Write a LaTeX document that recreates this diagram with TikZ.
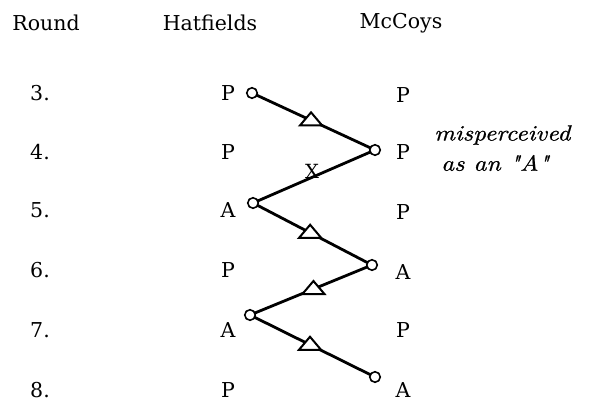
\documentclass[tikz,border=0pt]{standalone}
\usepackage{fontspec}
\setmainfont{DejaVu Serif}
\newfontfamily\notefont{lmroman10-italic.otf}[FakeStretch=1.15, FakeBold=0.8]
\usetikzlibrary{calc}
\begin{document}
\begin{tikzpicture}[x=1pt,y=-1pt,
  lbl/.style={font=\fontsize{20.5}{24}\selectfont, inner sep=0pt},
  note/.style={font=\fontsize{22}{26}\selectfont\notefont, inner sep=0pt, anchor=west},
  dot/.style={circle, draw, fill=white, line width=1.6pt, minimum size=10.5pt, inner sep=0pt},
  link/.style={line width=2.8pt},
  tri/.style={draw, fill=white, line width=2pt, line join=miter}
]
\useasboundingbox (0,0) rectangle (593,404);
% headers
\node[lbl] (hr) at (46,23) {Round};
\node[lbl] (hh) at (210,23) {Hatfields};
\node[lbl] (hm) at (401,23) {McCoys};
% round numbers
\foreach \n/\y in {3/93,4/152,5/210,6/270,7/330,8/390}{
  \node[lbl] (r\n) at (40,\y) {\n.};
}
% Hatfields moves
\node[lbl] (h3) at (228,93) {P};
\node[lbl] (h4) at (228,152) {P};
\node[lbl] (h5) at (228,210) {A};
\node[lbl] (h6) at (228,270) {P};
\node[lbl] (h7) at (228,330) {A};
\node[lbl] (h8) at (228,390) {P};
% McCoys moves
\node[lbl] (m3) at (403,95) {P};
\node[lbl] (m4) at (403,152) {P};
\node[lbl] (m5) at (403,212) {P};
\node[lbl] (m6) at (403,272) {A};
\node[lbl] (m7) at (403,330) {P};
\node[lbl] (m8) at (403,390) {A};
% note
\node[note] (n1) at (434,135) {misperceived};
\node[note] (n2) at (441,163) {as an "A"};
% zigzag
\coordinate (c1) at (252,93);
\coordinate (c2) at (375,150);
\coordinate (c3) at (253,203);
\coordinate (c4) at (372,265);
\coordinate (c5) at (250,315);
\coordinate (c6) at (375,377);
\draw[link] (c1) -- (c2) -- (c3) -- (c4) -- (c5) -- (c6);
\foreach \a/\b in {c1/c2,c3/c4,c4/c5,c5/c6}{
  \draw[tri] ($(\a)!0.48!(\b)+(-11,5)$) -- ++(22,0) -- ++(-11,-13) -- cycle;
}
\node[lbl, font=\fontsize{19.5}{22}\selectfont] (x) at ($(c2)!0.5!(c3)+(-2,-5)$) {X};
\foreach \c in {c1,c2,c3,c4,c5,c6}{
  \node[dot] (d\c) at (\c) {};
}
\end{tikzpicture}
\end{document}
